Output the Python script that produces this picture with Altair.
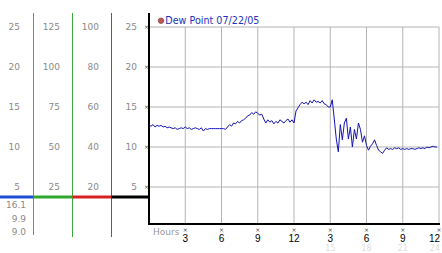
import altair as alt
import pandas as pd

# ---- data ----
dew = [
    12.7, 12.6, 12.8, 12.5, 12.7, 12.6,
    12.7, 12.5, 12.6, 12.4, 12.5, 12.4,
    12.3, 12.4, 12.2, 12.3, 12.4, 12.3,
    12.5, 12.3, 12.4, 12.2, 12.3, 12.4,
    12.3, 12.2, 12.4, 12.0, 12.3, 12.2,
    12.3, 12.3, 12.3, 12.3, 12.3, 12.3,
    12.3, 12.3, 12.2, 12.5, 12.8, 12.6,
    13.0, 12.9, 13.2, 13.0, 13.3, 13.4,
    13.6, 13.9, 14.0, 14.3, 14.1, 14.4,
    14.2, 14.0, 14.1, 13.5, 13.0, 13.4,
    13.1, 13.3, 12.9, 13.2, 13.0, 13.4,
    13.2, 13.0, 13.3, 13.5, 13.1, 13.4,
    13.0, 14.5, 14.9, 15.3, 15.6, 15.4,
    15.6, 15.3, 15.8, 15.5, 15.9, 15.6,
    15.7, 15.5, 15.8, 15.4, 15.3, 15.0,
    15.0, 15.9, 13.5, 11.0, 9.4, 12.8,
    10.9, 13.0, 13.6, 11.0, 12.5, 10.0,
    12.2, 11.0, 13.0, 12.2, 10.6, 11.4,
    10.2, 9.6, 10.1, 10.4, 10.9, 10.2,
    9.6, 9.4, 9.2, 9.6, 9.9, 9.7,
    9.8, 9.7, 9.9, 9.8, 9.9, 9.7,
    9.8, 9.7, 9.8, 9.7, 9.8, 9.8,
    9.7, 9.8, 9.9, 9.8, 9.9, 9.8,
    10.0, 9.9, 10.0, 10.1, 10.0, 10.0,
]
hours = [i / 6 for i in range(len(dew))]

grid_values = [5, 10, 15, 20, 25]
col1_labels = ["5", "10", "15", "20", "25"]
col2_labels = ["25", "50", "75", "100", "125"]
col3_labels = ["20", "40", "60", "80", "100"]
col4_labels = ["5", "10", "15", "20", "25"]
stats_labels = ["16.1", "9.9", "9.0"]

tick_hours = [3, 6, 9, 12, 15, 18, 21, 24]
tick_labels = ["3", "6", "9", "12", "3", "6", "9", "12"]
sub_labels = ["", "", "", "", "15", "18", "21", "24"]
legend_label = "Dew Point 07/22/05"

# ---- layout ----
W, H = 290, 211
yscale = alt.Scale(domain=[0.375, 26.75], nice=False, zero=False)
xscale = alt.Scale(domain=[0, 24], nice=False, zero=False)
one = pd.DataFrame({"a": [0]})
FONT = "DejaVu Sans"

layers = []

# grid
hgrid = pd.DataFrame({"v": grid_values, "x0": [0] * 5, "x1": [24] * 5})
layers.append(alt.Chart(hgrid).mark_rule(color="#b4b4b4", strokeWidth=1).encode(
    x=alt.X("x0:Q", scale=xscale, axis=None), x2="x1:Q",
    y=alt.Y("v:Q", scale=yscale, axis=None)))
vgrid = pd.DataFrame({"h": tick_hours, "y0": [0.375] * 8, "y1": [25] * 8})
layers.append(alt.Chart(vgrid).mark_rule(color="#b4b4b4", strokeWidth=1).encode(
    x=alt.X("h:Q", scale=xscale, axis=None),
    y=alt.Y("y0:Q", scale=yscale, axis=None), y2="y1:Q"))

# left panel decoration lines
for xv, y2v, col in [(-115.5, 222, "#3a9ad0"), (-76.5, 224, "#3aa83a"), (-37.5, 224, "#c83232")]:
    layers.append(alt.Chart(one).mark_rule(color=col, strokeWidth=1).encode(
        x=alt.value(xv), y=alt.value(0), y2=alt.value(y2v)))
for x0, x1, col in [(-149, -115.5, "#1e4fd0"), (-115.5, -76.5, "#2ea82e"),
                    (-76.5, -37.5, "#d82020"), (-37.5, 0, "#000000")]:
    layers.append(alt.Chart(one).mark_rule(color=col, strokeWidth=3).encode(
        x=alt.value(x0), x2=alt.value(x1), y=alt.value(184)))

# left panel labels
for xv, labs in [(-129, col1_labels), (-89, col2_labels), (-50, col3_labels), (-12, col4_labels)]:
    d = pd.DataFrame({"v": grid_values, "lab": labs})
    layers.append(alt.Chart(d).mark_text(align="right", baseline="middle", font=FONT,
                                         fontSize=9, color="#8a8a8a").encode(
        x=alt.value(xv), y=alt.Y("v:Q", scale=yscale, axis=None), text="lab:N"))
for lab, yv in zip(stats_labels, [191.5, 205.5, 219]):
    layers.append(alt.Chart(pd.DataFrame({"lab": [lab]})).mark_text(
        align="right", baseline="middle", font=FONT, fontSize=9, color="#8a8a8a").encode(
        x=alt.value(-123), y=alt.value(yv), text="lab:N"))

# y tick marks
layers.append(alt.Chart(pd.DataFrame({"v": grid_values})).mark_text(
    text="×", font=FONT, fontSize=6, color="#444444", baseline="middle").encode(
    x=alt.value(-2.5), y=alt.Y("v:Q", scale=yscale, axis=None)))

# data line
df = pd.DataFrame({"hour": hours, "dew": dew})
layers.append(alt.Chart(df).mark_line(color="#1414b4", strokeWidth=1).encode(
    x=alt.X("hour:Q", scale=xscale, axis=None),
    y=alt.Y("dew:Q", scale=yscale, axis=None)))

# axes lines
layers.append(alt.Chart(one).mark_rule(color="black", strokeWidth=2).encode(
    x=alt.value(0), y=alt.value(0), y2=alt.value(212)))
layers.append(alt.Chart(one).mark_rule(color="black", strokeWidth=2).encode(
    x=alt.value(0), x2=alt.value(291), y=alt.value(211)))

# x labels
xl = pd.DataFrame({"h": tick_hours, "lab": tick_labels, "sub": sub_labels})
xl_mid = xl.iloc[:-1]
xl_end = xl.iloc[-1:]
layers.append(alt.Chart(xl).mark_text(text="×", font=FONT, fontSize=6, color="#444444",
                                      baseline="middle").encode(
    x=alt.X("h:Q", scale=xscale, axis=None), y=alt.value(216.5)))
layers.append(alt.Chart(xl_mid).mark_text(font="Liberation Sans", fontSize=10, color="black",
                                          baseline="middle").encode(
    x=alt.X("h:Q", scale=xscale, axis=None), y=alt.value(225.5), text="lab:N"))
layers.append(alt.Chart(xl_end).mark_text(font="Liberation Sans", fontSize=10, color="black",
                                          baseline="middle", align="right", dx=1).encode(
    x=alt.X("h:Q", scale=xscale, axis=None), y=alt.value(225.5), text="lab:N"))
layers.append(alt.Chart(xl_mid).mark_text(font=FONT, fontSize=8, color="#dddddd",
                                          baseline="middle").encode(
    x=alt.X("h:Q", scale=xscale, axis=None), y=alt.value(235.5), text="sub:N"))
layers.append(alt.Chart(xl_end).mark_text(font=FONT, fontSize=8, color="#dddddd",
                                          baseline="middle", align="right", dx=1).encode(
    x=alt.X("h:Q", scale=xscale, axis=None), y=alt.value(235.5), text="sub:N"))
layers.append(alt.Chart(pd.DataFrame({"lab": ["Hours"]})).mark_text(
    align="left", baseline="middle", font=FONT, fontSize=9, color="#999999").encode(
    x=alt.value(4), y=alt.value(219), text="lab:N"))

# legend
layers.append(alt.Chart(one).mark_point(filled=True, shape="circle", size=30,
                                        color="#a81010", stroke="#500000",
                                        strokeWidth=0.8).encode(
    x=alt.value(12), y=alt.value(7.7)))
layers.append(alt.Chart(pd.DataFrame({"lab": [legend_label]})).mark_text(
    align="left", baseline="middle", font=FONT, fontSize=9.6, color="#2233bb").encode(
    x=alt.value(16.3), y=alt.value(7.6), text="lab:N"))

chart = alt.layer(*layers).properties(
    width=W, height=H,
    padding={"left": 149, "top": 13, "right": 3, "bottom": 29},
    autosize=alt.AutoSizeParams(type="none"),
    background="white",
).configure_view(stroke=None)

chart.save("out.html", embed_options={"renderer": "svg", "actions": False})
